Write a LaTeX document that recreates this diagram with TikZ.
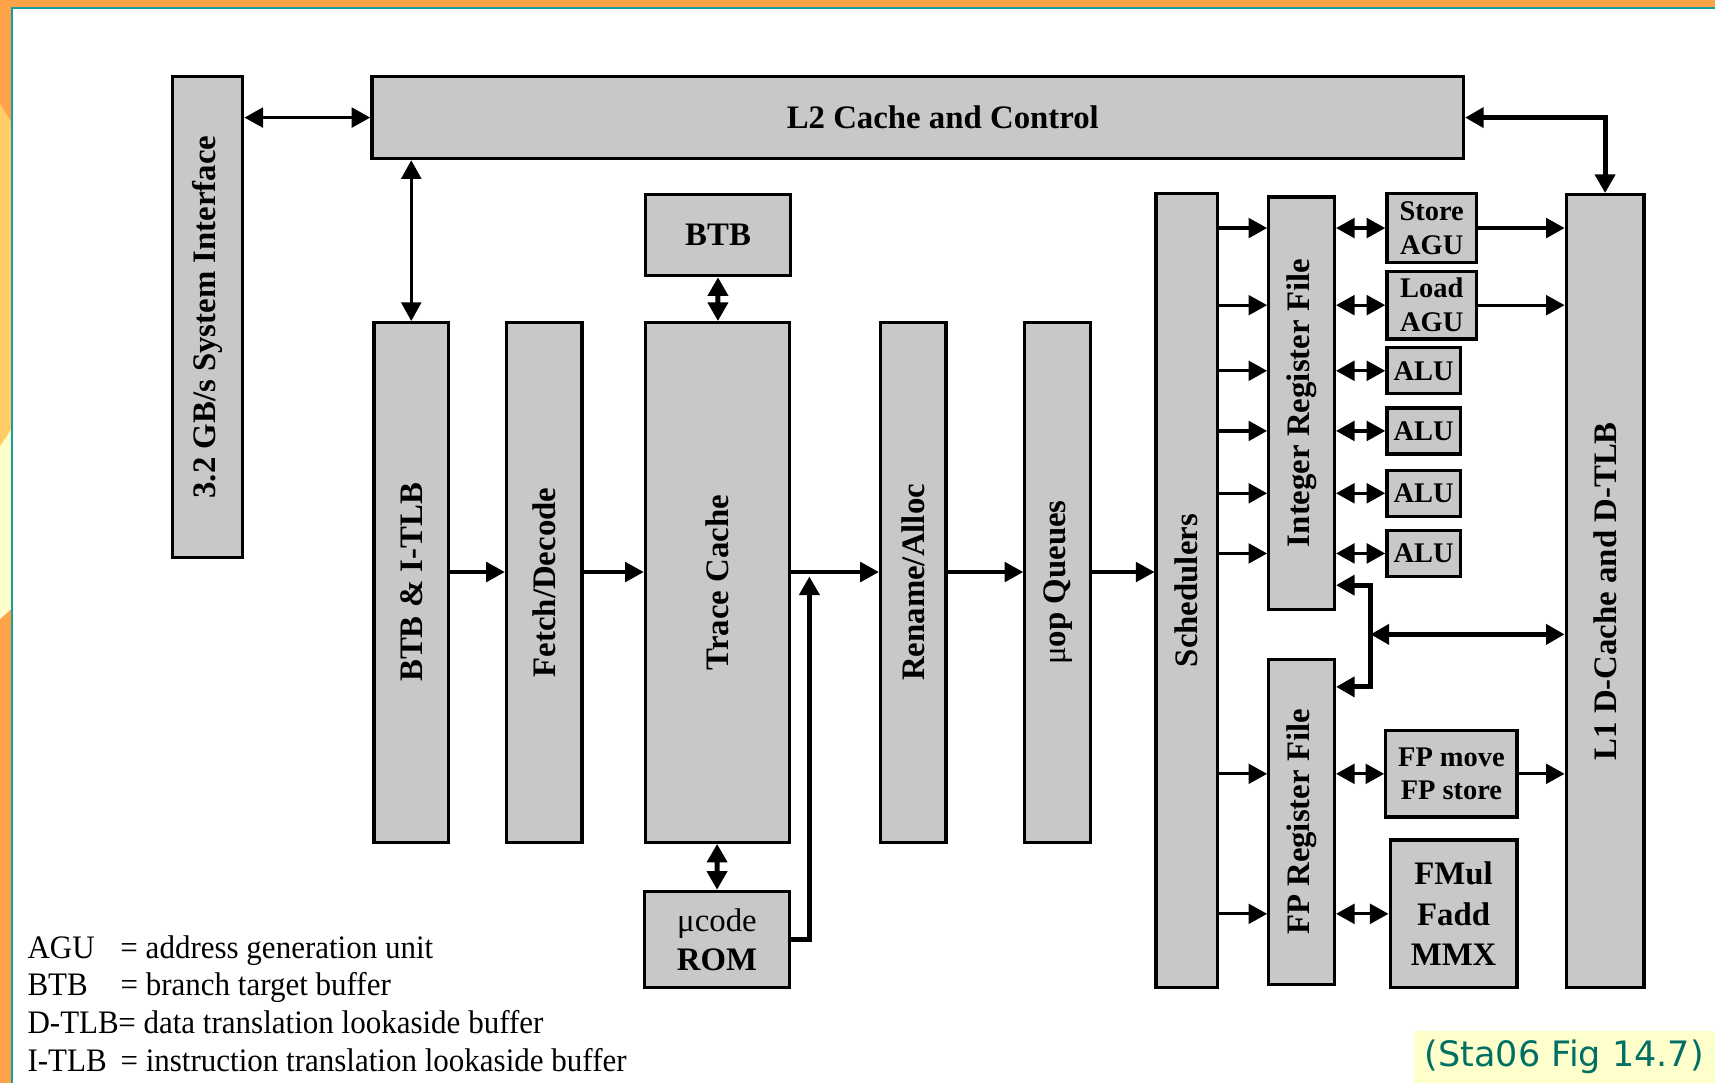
\documentclass[tikz,border=0pt]{standalone}
\usepackage{fontspec}
\setmainfont{Liberation Serif}
\newfontfamily\legendfont[FakeStretch=0.945]{Liberation Serif}
\newfontfamily\capfont{DejaVu Sans}
\usepackage{tikz}
\usetikzlibrary{arrows.meta,calc}

\definecolor{boxgray}{RGB}{200,200,200}
\definecolor{frameorange}{RGB}{255,163,72}
\definecolor{framelight}{RGB}{255,204,102}
\definecolor{framecream}{RGB}{255,255,204}
\definecolor{frameteal}{RGB}{20,160,160}
\definecolor{capteal}{RGB}{0,112,100}

\begin{document}
\begin{tikzpicture}[x=1pt,y=-1pt,
  box/.style={draw,line width=3pt,fill=boxgray,inner sep=0pt,align=center,
    font=\fontsize{30}{36}\selectfont\bfseries},
  small/.style={box,font=\fontsize{26}{31}\selectfont\bfseries},
  legend/.style={anchor=base west,inner sep=0pt,font=\legendfont\fontsize{30}{34}\selectfont},
  arr/.style={line width=3pt,-{Triangle[length=17pt,width=18pt]}},
  dbl/.style={line width=3pt,{Triangle[length=17pt,width=18pt]}-{Triangle[length=17pt,width=18pt]}},
  bus/.style={line width=4.5pt}
]
  % frame of the slide
  \useasboundingbox (0,0) rectangle (1568,990);
  \fill[white] (0,0) rectangle (1568,990);
  \fill[frameorange] (0,0) rectangle (1568,6);
  \fill[frameorange] (0,0) rectangle (10,990);
  \fill[framelight] (0,95) -- (10,111) -- (10,393) -- (0,408) -- cycle;
  \fill[framecream] (0,408) -- (10,393) -- (10,557) -- (0,566) -- cycle;
  \draw[frameteal,line width=2pt] (11,990) -- (11,7) -- (1568,7);

  % blocks
  \node[box,minimum width=64,minimum height=440] (sysif) at (190,290) {\rotatebox{90}{3.2 GB/s System Interface}};
  \node[box,minimum width=998,minimum height=75] (l2) at (839,107.5) {\hspace*{46pt}L2 Cache and Control};
  \node[box,minimum width=68,minimum height=475] (btbi) at (376,532.5) {\rotatebox{90}{BTB \& I-TLB}};
  \node[box,minimum width=69,minimum height=475] (fetch) at (497.5,532.5) {\rotatebox{90}{Fetch/Decode}};
  \node[box,minimum width=133,minimum height=74] (btb) at (656.5,215) {BTB};
  \node[box,minimum width=132,minimum height=475] (trace) at (656,532.5) {\rotatebox{90}{Trace Cache}};
  \node[box,minimum width=133,minimum height=88] (ucode) at (655.5,859) {{\mdseries μcode}\\ROM};
  \node[box,minimum width=60,minimum height=475] (rename) at (835,532.5) {\rotatebox{90}{Rename/Alloc}};
  \node[box,minimum width=60,minimum height=475] (uop) at (967,532.5) {\rotatebox{90}{{\mdseries μ}op Queues}};
  \node[box,minimum width=56,minimum height=726] (sched) at (1085,540) {\rotatebox{90}{Schedulers}};
  \node[box,minimum width=60,minimum height=377] (irf) at (1190,368.5) {\rotatebox{90}{Integer Register File}};
  \node[box,minimum width=60,minimum height=297] (fprf) at (1190,751.5) {\rotatebox{90}{FP Register File}};
  \node[small,minimum width=82,minimum height=63] (store) at (1309,208.5) {Store\\AGU};
  \node[small,minimum width=82,minimum height=62] (load) at (1309,279) {Load\\AGU};
  \node[small,minimum width=67,minimum height=42] (alu1) at (1301.5,339) {ALU};
  \node[small,minimum width=67,minimum height=42] (alu2) at (1301.5,394) {ALU};
  \node[small,minimum width=67,minimum height=42] (alu3) at (1301.5,451) {ALU};
  \node[small,minimum width=67,minimum height=42] (alu4) at (1301.5,506) {ALU};
  \node[small,minimum width=120,minimum height=79] (fpmove) at (1327,707.5) {FP move\\FP store};
  \node[box,minimum width=116,minimum height=135,font=\fontsize{30}{37}\selectfont\bfseries] (fmul) at (1329,835.5) {FMul\\Fadd\\MMX};
  \node[box,minimum width=71,minimum height=725] (l1) at (1467.5,540.5) {\rotatebox{90}{L1 D-Cache and D-TLB}};

  % connectors
  \coordinate (flow) at (0,523);
  \coordinate (romup) at (740,527);
  \coordinate (bus) at (1253,580);
  \draw[dbl] (sysif.east |- l2.west) -- (l2.west);
  \draw[dbl] (l2.south -| btbi.north) -- (btbi.north);
  \draw[dbl,bus] (btb) -- (trace);
  \draw[dbl,bus] (trace) -- (ucode);
  \draw[arr] (btbi.east |- flow) -- (fetch.west |- flow);
  \draw[arr] (fetch.east |- flow) -- (trace.west |- flow);
  \draw[arr] (trace.east |- flow) -- (rename.west |- flow);
  \draw[arr] (rename.east |- flow) -- (uop.west |- flow);
  \draw[arr] (uop.east |- flow) -- (sched.west |- flow);
  \draw[arr,bus] (ucode.east) -| (romup);
  \foreach \u in {store,load,alu1,alu2,alu3,alu4} {
    \draw[arr] (sched.east |- \u.west) -- (irf.west |- \u.west);
    \draw[dbl] (irf.east |- \u.west) -- (\u.west);
  }
  \foreach \u in {fpmove,fmul} {
    \draw[arr] (sched.east |- \u.west) -- (fprf.west |- \u.west);
    \draw[dbl] (fprf.east |- \u.west) -- (\u.west);
  }
  \draw[arr] (store.east) -- (l1.west |- store.east);
  \draw[arr] (load.east) -- (l1.west |- load.east);
  \draw[arr] (fpmove.east) -- (l1.west |- fpmove.east);
  \draw[dbl,bus] (l2.east) -| (l1.north);
  \draw[dbl,bus] (irf.east |- 0,535) -| (bus) |- (fprf.east |- 0,628);
  \draw[dbl,bus] (bus) -- (l1.west |- bus);

  % legend
  \node[legend] (lagu) at (25,876) {\makebox[85pt][l]{AGU}= address generation unit};
  \node[legend] (lbtb) at (25,910.5) {\makebox[85pt][l]{BTB}= branch target buffer};
  \node[legend] (ldtlb) at (25,945) {\makebox[83pt][l]{D-TLB}= data translation lookaside buffer};
  \node[legend] (litlb) at (25,979.5) {\makebox[85pt][l]{I-TLB}= instruction translation lookaside buffer};

  % source
  \node[fill=framecream,anchor=south east,minimum width=275,minimum height=47,inner sep=0pt,
    text=capteal,font=\capfont\fontsize{32}{36}\selectfont] (src) at (1568,990) {\raisebox{-3pt}{(Sta06 Fig 14.7)}};
\end{tikzpicture}
\end{document}
